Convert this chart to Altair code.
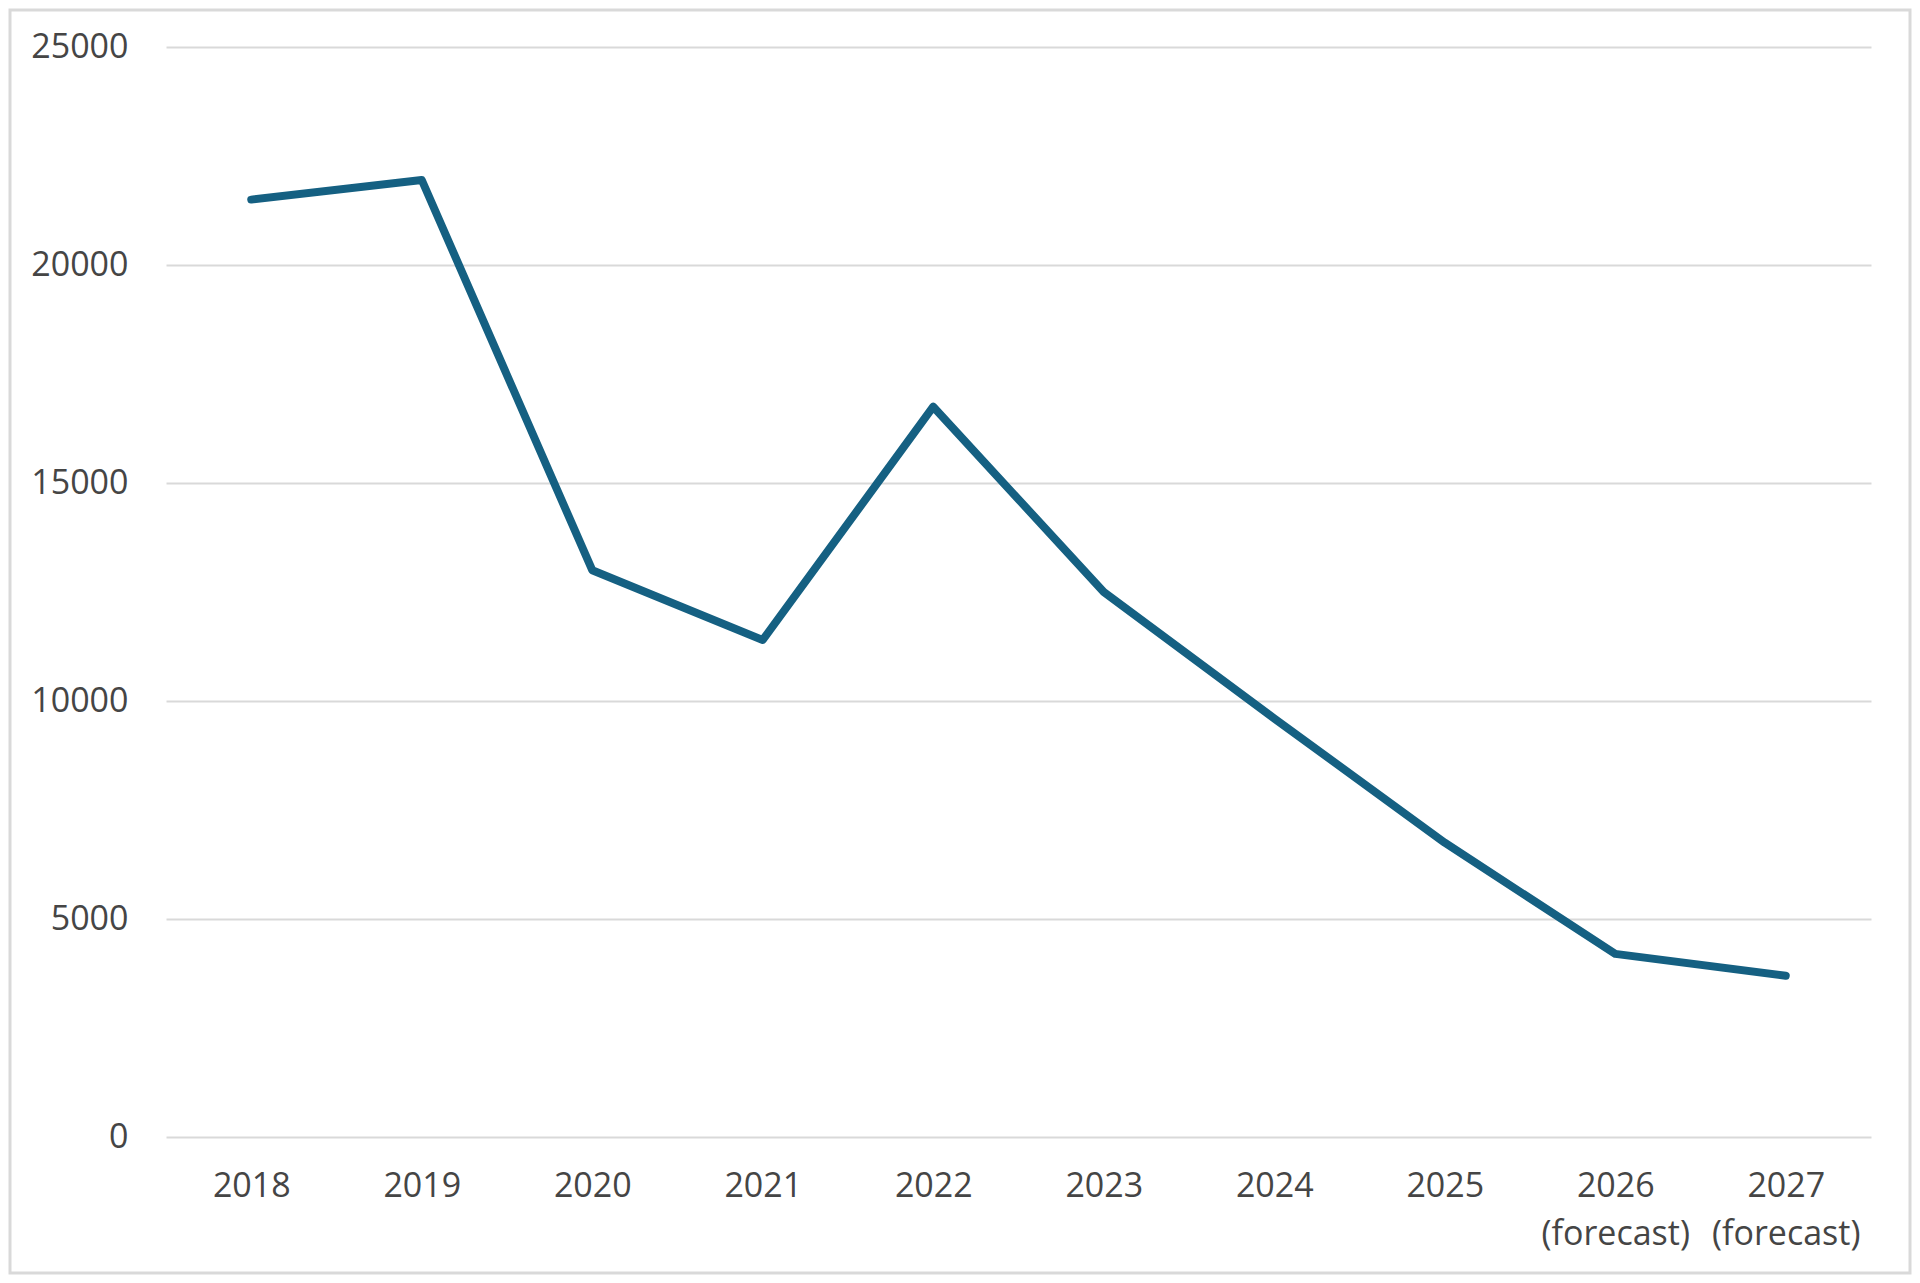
import altair as alt
import pandas as pd

years = ["2018", "2019", "2020", "2021", "2022", "2023", "2024", "2025",
         "2026 (forecast)", "2027 (forecast)"]
values = [21500, 21950, 13000, 11400, 16750, 12500, 9600, 6750, 4200, 3700]

df = pd.DataFrame({"year": years, "value": values})

W, H = 1705, 1090
PAD_L, PAD_T, PAD_R, PAD_B = 158, 39, 41, 138

frame = alt.Chart(pd.DataFrame({"k": [0]})).mark_rect(
    fill=None, stroke="#d9d9d9", strokeWidth=3, clip=False
).encode(
    x=alt.value(-156), x2=alt.value(W + PAD_R - 2),
    y=alt.value(-37), y2=alt.value(H + PAD_B - 2)
)

line = alt.Chart(df).mark_line(
    color="#156082", strokeWidth=8, strokeCap="round", strokeJoin="round"
).encode(
    x=alt.X("year:N", sort=years, title=None,
            scale=alt.Scale(paddingInner=0, paddingOuter=0.5),
            axis=alt.Axis(labelAngle=0, labelExpr="split(datum.label, ' ')",
                          labelLineHeight=48, labelPadding=32, ticks=False,
                          domain=False, grid=False)),
    y=alt.Y("value:Q", title=None,
            scale=alt.Scale(domain=[0, 25000], nice=False),
            axis=alt.Axis(values=[0, 5000, 10000, 15000, 20000, 25000],
                          format="d", ticks=False, domain=False,
                          labelPadding=38, gridColor="#d9d9d9", gridWidth=2)),
)

chart = alt.layer(frame, line).properties(
    width=W, height=H,
    autosize=alt.AutoSizeParams(type="none"),
    padding={"left": PAD_L, "top": PAD_T, "right": PAD_R, "bottom": PAD_B},
).configure_view(stroke=None).configure_axis(
    labelFont="Open Sans", labelFontSize=34, labelColor="#454545"
)

chart.save("out.html", embed_options={"renderer": "svg", "actions": False})
